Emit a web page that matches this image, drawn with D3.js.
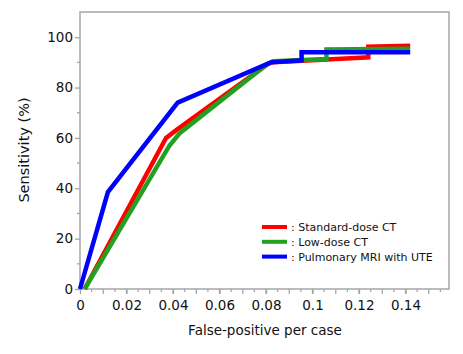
<!DOCTYPE html>
<html>
<head>
<meta charset="utf-8">
<script src="https://cdn.jsdelivr.net/npm/d3@7/dist/d3.min.js"></script>
<style>
  body { margin: 0; background: #fff; }
  svg { display: block; }
</style>
</head>
<body>
<div id="chart"></div>
<script>
// ROC-like curves
const seriesNames = ["Standard-dose CT", "Low-dose CT", "Pulmonary MRI with UTE"]
const seriesColors = ["#ff0000", "#22a022", "#0000ff"]

const standardX = [0.002, 0.037, 0.042, 0.081, 0.083, 0.124, 0.124, 0.142]
const standardY = [0, 60, 63.5, 89.5, 90, 92, 96.2, 96.6]

const lowDoseX = [0.002, 0.0385, 0.043, 0.08, 0.083, 0.106, 0.106, 0.142]
const lowDoseY = [0, 57, 62, 89, 90.5, 91.3, 95.1, 95.4]

const mriX = [0, 0.012, 0.042, 0.082, 0.0953, 0.0953, 0.142]
const mriY = [0, 38.5, 74, 90, 90.8, 94, 94]

const xTickLabels = [0, 0.02, 0.04, 0.06, 0.08, 0.1, 0.12, 0.14]
const yTickLabels = [0, 20, 40, 60, 80, 100]

const W = 463, H = 354
const margin = { left: 80, top: 12, right: 14, bottom: 65 }
const AXIS = "#a6a6a6"
const FONT = "DejaVu Sans, Verdana, sans-serif"
const INK = "#111"

const svg = d3.select("#chart").append("svg")
  .attr("width", W)
  .attr("height", H)

const x = d3.scaleLinear().domain([0, 0.1587]).range([margin.left, W - margin.right])
const y = d3.scaleLinear().domain([0, 110]).range([H - margin.bottom, margin.top])

// plot frame
svg.append("rect")
  .attr("x", x(0)).attr("y", y(110))
  .attr("width", x(0.1587) - x(0))
  .attr("height", y(0) - y(110))
  .attr("fill", "none")
  .attr("stroke", AXIS)
  .attr("stroke-width", 1.5)

// minor ticks
const xMinor = d3.range(0.005, 0.156, 0.005)
svg.append("g").selectAll("line")
  .data(xMinor)
  .join("line")
  .attr("x1", d => x(d)).attr("x2", d => x(d))
  .attr("y1", y(0)).attr("y2", (d, i) => y(0) + (i % 2 === 1 ? 5 : 3))
  .attr("stroke", AXIS).attr("stroke-width", 1.3)

const yMinor = d3.range(10, 110, 20)
svg.append("g").selectAll("line")
  .data(yMinor)
  .join("line")
  .attr("x1", x(0) - 3).attr("x2", x(0))
  .attr("y1", d => y(d)).attr("y2", d => y(d))
  .attr("stroke", AXIS).attr("stroke-width", 1.3)

// axes
const xAxis = svg.append("g")
  .attr("transform", `translate(0,${y(0)})`)
  .call(d3.axisBottom(x).tickValues(xTickLabels).tickSize(5).tickSizeOuter(0)
    .tickFormat(d => d === 0 ? "0" : d3.format("~g")(d)))
xAxis.select(".domain").remove()
xAxis.selectAll(".tick line").attr("stroke", AXIS).attr("stroke-width", 1.3)
xAxis.selectAll(".tick text")
  .attr("dy", "0.95em")
  .attr("fill", INK)
  .attr("font-size", "13.5px")
  .attr("font-family", FONT)

const yAxis = svg.append("g")
  .attr("transform", `translate(${x(0)},0)`)
  .call(d3.axisLeft(y).tickValues(yTickLabels).tickSize(5).tickSizeOuter(0))
yAxis.select(".domain").remove()
yAxis.selectAll(".tick line").attr("stroke", AXIS).attr("stroke-width", 1.3)
yAxis.selectAll(".tick text")
  .attr("x", -7)
  .attr("fill", INK)
  .attr("font-size", "13.5px")
  .attr("font-family", FONT)

// axis titles
svg.append("text")
  .attr("x", 265).attr("y", 335)
  .attr("text-anchor", "middle")
  .attr("fill", INK)
  .attr("font-size", "13.5px")
  .attr("font-family", FONT)
  .text("False-positive per case")

svg.append("text")
  .attr("transform", "translate(29,150) rotate(-90)")
  .attr("text-anchor", "middle")
  .attr("fill", INK)
  .attr("font-size", "14.5px")
  .attr("font-family", FONT)
  .text("Sensitivity (%)")

// curves
const series = [
  d3.zip(standardX, standardY),
  d3.zip(lowDoseX, lowDoseY),
  d3.zip(mriX, mriY),
]
const line = d3.line().x(d => x(d[0])).y(d => y(d[1]))

svg.append("g").selectAll("path")
  .data(series)
  .join("path")
  .attr("d", line)
  .attr("fill", "none")
  .attr("stroke", (d, i) => seriesColors[i])
  .attr("stroke-width", 4.5)
  .attr("stroke-linejoin", "miter")

// legend
const legend = svg.append("g").attr("transform", "translate(262,227)")
seriesNames.forEach((name, i) => {
  const g = legend.append("g").attr("transform", `translate(0,${i * 14.8})`)
  g.append("line")
    .attr("x1", 0).attr("x2", 25)
    .attr("stroke", seriesColors[i]).attr("stroke-width", 4)
  g.append("text")
    .attr("x", 29).attr("y", 4)
    .attr("fill", INK)
    .attr("font-size", "11px")
    .attr("font-family", FONT)
    .text(": " + name)
})
</script>
</body>
</html>
